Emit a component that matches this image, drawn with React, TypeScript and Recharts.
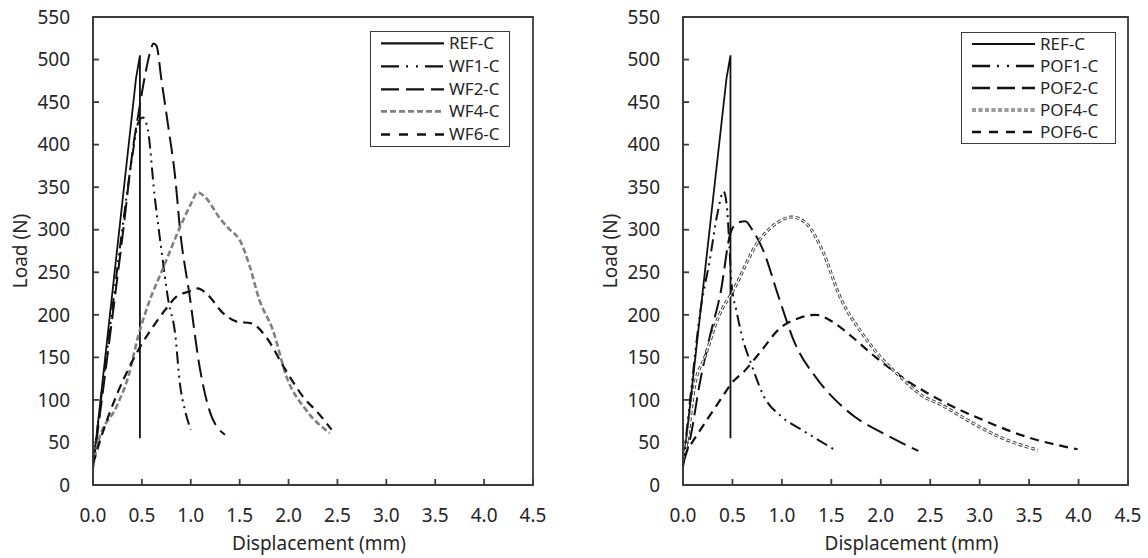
import { LineChart, Line, XAxis, YAxis, ReferenceArea, Legend } from "recharts";

type Pt = [number, number];

const xTicks = [0, 0.5, 1, 1.5, 2, 2.5, 3, 3.5, 4, 4.5];
const yTicks = [0, 50, 100, 150, 200, 250, 300, 350, 400, 450, 500, 550];

// displacement (mm), load (N)
const refC: Pt[] = [[0, 20], [0.44, 478], [0.48, 505], [0.48, 55]];

const wf1C: Pt[] = [
  [0, 25], [0.19, 200], [0.31, 310], [0.42, 400], [0.46, 425], [0.51, 432], [0.56, 418],
  [0.63, 340], [0.7, 276], [0.77, 217], [0.84, 178], [0.89, 118], [0.94, 88], [1.0, 65],
];
const wf2C: Pt[] = [
  [0, 20], [0.19, 190], [0.31, 300], [0.41, 397], [0.47, 440], [0.53, 480], [0.58, 507],
  [0.62, 519], [0.65, 516], [0.7, 476], [0.77, 421], [0.84, 362], [0.89, 300], [0.99, 221],
  [1.09, 139], [1.19, 88], [1.35, 59],
];
const wf4C: Pt[] = [
  [0, 21], [0.05, 49], [0.24, 92], [0.36, 127], [0.46, 174], [0.58, 217], [0.71, 253],
  [0.89, 303], [1.0, 330], [1.07, 344], [1.15, 338], [1.3, 313], [1.4, 300], [1.5, 288],
  [1.6, 258], [1.7, 218], [1.84, 182], [1.98, 127], [2.18, 88], [2.42, 61],
];
const wf6C: Pt[] = [
  [0, 25], [0.1, 62], [0.25, 108], [0.4, 145], [0.48, 162], [0.65, 192], [0.76, 209],
  [0.85, 221], [1.0, 228], [1.07, 231], [1.16, 225], [1.33, 202], [1.47, 192], [1.62, 190],
  [1.77, 174], [1.95, 139], [2.16, 102], [2.3, 85], [2.44, 65],
];

const pof1C: Pt[] = [
  [0, 22], [0.1, 130], [0.17, 200], [0.27, 264], [0.35, 320], [0.41, 345], [0.44, 331],
  [0.47, 280], [0.49, 237], [0.54, 205], [0.59, 178], [0.7, 139], [0.81, 106], [1.0, 80],
  [1.2, 65], [1.54, 41],
];
const pof2C: Pt[] = [
  [0, 25], [0.07, 53], [0.17, 120], [0.27, 174], [0.38, 226], [0.48, 296], [0.55, 308],
  [0.63, 310], [0.7, 300], [0.81, 276], [0.97, 220], [1.13, 167], [1.34, 127], [1.54, 100],
  [1.74, 80], [2.02, 61], [2.38, 40],
];
const pof4C: Pt[] = [
  [0, 30], [0.04, 50], [0.12, 118], [0.22, 150], [0.36, 198], [0.51, 229], [0.75, 284],
  [0.95, 308], [1.1, 315], [1.25, 307], [1.4, 278], [1.6, 218], [1.8, 180], [2.0, 150],
  [2.2, 127], [2.43, 104], [2.6, 95], [2.88, 76], [3.21, 56], [3.59, 41],
];
const pof6C: Pt[] = [
  [0, 33], [0.12, 55], [0.25, 78], [0.4, 104], [0.48, 118], [0.63, 135], [0.8, 159],
  [0.96, 182], [1.17, 196], [1.34, 200], [1.51, 192], [1.71, 174], [1.95, 150], [2.3, 120],
  [2.63, 98], [3.04, 76], [3.49, 56], [3.99, 42],
];

const FONT = '"Noto Sans", "Open Sans", sans-serif';
const AXIS = "#3c3c3c";
const TEXT = "#262626";

interface Series {
  name: string;
  data: Pt[];
  stroke: string;
  width: number;
  dash?: string;
  legendDash?: string;
  hollow?: boolean;
  curve: "linear" | "monotone";
}

const leftSeries: Series[] = [
  { name: "REF-C", data: refC, stroke: "#111", width: 1.8, curve: "linear" },
  { name: "WF1-C", data: wf1C, stroke: "#111", width: 2, dash: "12 5 2 5 2 5", legendDash: "18 7 2 8 2 7", curve: "monotone" },
  { name: "WF2-C", data: wf2C, stroke: "#111", width: 2, dash: "18 7", legendDash: "18 7", curve: "monotone" },
  { name: "WF4-C", data: wf4C, stroke: "#808080", width: 2.6, dash: "6 3", legendDash: "6 3", curve: "monotone" },
  { name: "WF6-C", data: wf6C, stroke: "#111", width: 2.2, dash: "9 6", legendDash: "9 9", curve: "monotone" },
];

const rightSeries: Series[] = [
  { name: "REF-C", data: refC, stroke: "#111", width: 1.8, curve: "linear" },
  { name: "POF1-C", data: pof1C, stroke: "#111", width: 2, dash: "12 5 2 5 2 5", legendDash: "18 7 2 8 2 7", curve: "monotone" },
  { name: "POF2-C", data: pof2C, stroke: "#111", width: 2, dash: "18 7", legendDash: "18 7", curve: "monotone" },
  { name: "POF4-C", data: pof4C, stroke: "#3a3a3a", width: 3, dash: "4 2.5", legendDash: "4 2.5", hollow: true, curve: "monotone" },
  { name: "POF6-C", data: pof6C, stroke: "#111", width: 2.2, dash: "9 6", legendDash: "9 8", curve: "monotone" },
];

const toRows = (pts: Pt[]) => pts.map(([x, y]) => ({ x, y }));

function LegendBox({ items, width, rowH, textX }: { items: Series[]; width: number; rowH: number; textX: number }) {
  return (
    <div style={{ width, border: `1.8px solid ${AXIS}`, background: "#fff", boxSizing: "border-box", fontFamily: FONT, fontSize: 17, color: TEXT }}>
      {items.map((s) => (
        <div key={s.name} style={{ position: "relative", height: rowH }}>
          <svg width={textX} height={rowH} style={{ position: "absolute", left: 0, top: 0 }}>
            <line x1={10} x2={textX - 5} y1={rowH / 2} y2={rowH / 2} stroke={s.stroke} strokeWidth={s.hollow ? 3 : s.width + 0.3} strokeDasharray={s.legendDash} />
            {s.hollow && (
              <line x1={10} x2={textX - 5} y1={rowH / 2} y2={rowH / 2} stroke="#fff" strokeWidth={1.1} strokeDasharray={s.legendDash} />
            )}
          </svg>
          <span style={{ position: "absolute", left: textX, top: 0, lineHeight: `${rowH}px` }}>{s.name}</span>
        </div>
      ))}
    </div>
  );
}

function Panel({ series, left, width, legend }: { series: Series[]; left: number; width: number; legend: { left: number; top: number; width: number; rowH: number; textX: number } }) {
  const tickStyle = { fill: TEXT, fontSize: 19, fontFamily: FONT };
  return (
    <div style={{ position: "absolute", left, top: 0 }}>
      <LineChart width={width} height={558} margin={{ top: 17, right: 20, bottom: 0, left: 0 }}>
        <XAxis
          type="number"
          dataKey="x"
          domain={[0, 4.5]}
          ticks={xTicks}
          interval={0}
          tickFormatter={(v: number) => v.toFixed(1)}
          height={73}
          tickSize={-6}
          tickMargin={30}
          stroke={AXIS}
          strokeWidth={1.8}
          tick={tickStyle}
          label={{ value: "Displacement (mm)", position: "insideBottom", offset: 8, dx: 6, fill: TEXT, fontSize: 19, fontFamily: FONT }}
        />
        <YAxis
          type="number"
          domain={[0, 550]}
          ticks={yTicks}
          interval={0}
          width={93}
          tickSize={-6}
          tickMargin={29}
          stroke={AXIS}
          strokeWidth={1.8}
          tick={tickStyle}
          label={{ value: "Load (N)", angle: -90, position: "insideLeft", offset: 20, fill: TEXT, fontSize: 19, fontFamily: FONT, style: { textAnchor: "middle" } }}
        />
        <ReferenceArea x1={0} x2={4.5} y1={0} y2={550} fill="none" stroke={AXIS} strokeWidth={1.8} />
        {series.map((s) => (
          <Line
            key={s.name}
            data={toRows(s.data)}
            dataKey="y"
            type={s.curve}
            stroke={s.stroke}
            strokeWidth={s.width}
            strokeDasharray={s.dash}
            dot={false}
            activeDot={false}
            isAnimationActive={false}
          />
        ))}
        {series
          .filter((s) => s.hollow)
          .map((s) => (
            <Line
              key={s.name + "-inner"}
              data={toRows(s.data)}
              dataKey="y"
              type={s.curve}
              stroke="#fff"
              strokeWidth={1.1}
              strokeDasharray={s.dash}
              dot={false}
              activeDot={false}
              isAnimationActive={false}
            />
          ))}
        <Legend
          layout="vertical"
          align="center"
          verticalAlign="middle"
          wrapperStyle={{ left: legend.left, top: legend.top, width: legend.width }}
          content={() => <LegendBox items={series} width={legend.width} rowH={legend.rowH} textX={legend.textX} />}
        />
      </LineChart>
    </div>
  );
}

export default function App() {
  return (
    <div style={{ position: "absolute", left: 0, top: 0, width: 1148, height: 558, background: "#fff", overflow: "hidden" }}>
      <Panel series={leftSeries} left={0} width={553} legend={{ left: 370, top: 31, width: 140, rowH: 22.8, textX: 78 }} />
      <Panel series={rightSeries} left={590} width={558} legend={{ left: 371, top: 32, width: 155, rowH: 22, textX: 78 }} />
    </div>
  );
}
